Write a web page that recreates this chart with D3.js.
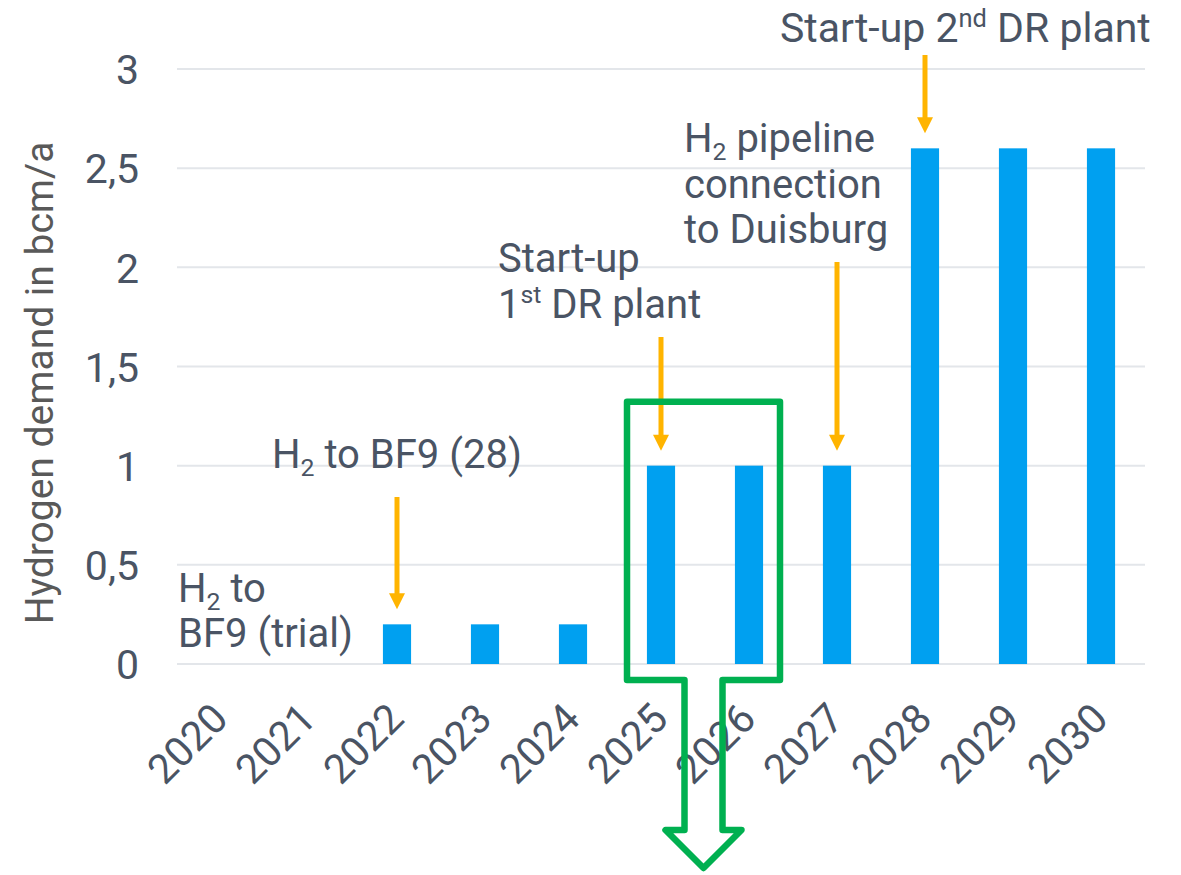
<!DOCTYPE html>
<html>
<head>
<meta charset="utf-8">
<script src="https://cdn.jsdelivr.net/npm/d3@7"></script>
<style>
  html, body { margin: 0; padding: 0; background: #ffffff; }
  svg { display: block; }
  text { font-family: Roboto, "Noto Sans", sans-serif; }
</style>
</head>
<body>
<svg id="chart" width="1181" height="875"></svg>
<script>
// ---- data ----
const years = ["2020","2021","2022","2023","2024","2025","2026","2027","2028","2029","2030"];
const demand = [0, 0, 0.2, 0.2, 0.2, 1, 1, 1, 2.6, 2.6, 2.6];
const yTicks = [0, 0.5, 1, 1.5, 2, 2.5, 3];
const yTickLabels = ["0", "0,5", "1", "1,5", "2", "2,5", "3"];
const yTitle = "Hydrogen demand in bcm/a";
// annotation texts: segments with optional sub/sup
const noteTrial = [[{t:"H"},{t:"2",s:"sub"},{t:" to"}], [{t:"BF9 (trial)"}]];
const noteBF9 = [[{t:"H"},{t:"2",s:"sub"},{t:" to BF9 (28)"}]];
const noteDR1 = [[{t:"Start-up"}], [{t:"1"},{t:"st",s:"sup"},{t:" DR plant"}]];
const notePipe = [[{t:"H"},{t:"2",s:"sub"},{t:" pipeline"}], [{t:"connection"}], [{t:"to Duisburg"}]];
const noteDR2 = [[{t:"Start-up 2"},{t:"nd",s:"sup"},{t:" DR plant"}]];
const arrowYears = ["2022", "2025", "2027", "2028"];
const highlightYears = ["2025", "2026"];

(function () {
// ---- layout ----
const svg = d3.select("#chart");
const pLeft = 177, pRight = 1145, pTop = 69, pBottom = 664;
const textColor = "#4a5464";
const barColor = "#00a0f0";
const arrowColor = "#ffb400";
const gridColor = "#e3e6ea";

const x = d3.scaleBand().domain(years).range([pLeft, pRight]).paddingInner(0.68).paddingOuter(0.34);
const y = d3.scaleLinear().domain([0, 3]).range([pBottom, pTop]);
const cx = yr => x(yr) + x.bandwidth() / 2;

// gridlines
svg.append("g").selectAll("line").data(yTicks).join("line")
  .attr("x1", pLeft).attr("x2", pRight)
  .attr("y1", d => y(d)).attr("y2", d => y(d))
  .attr("stroke", gridColor).attr("stroke-width", 2);

// y axis via d3 axis (labels only)
const yAxis = d3.axisLeft(y).tickValues(yTicks).tickFormat((d, i) => yTickLabels[i]).tickSize(0).tickPadding(0);
const gy = svg.append("g").attr("transform", "translate(139,0)").call(yAxis);
gy.select(".domain").remove();
gy.selectAll("text").attr("font-size", 41).attr("fill", textColor)
  .attr("font-family", "Roboto, sans-serif").attr("dy", "0.36em");

// y title
svg.append("text")
  .attr("transform", `translate(53,${(142 + 624) / 2}) rotate(-90)`)
  .attr("text-anchor", "middle")
  .attr("font-size", 39).attr("fill", "#595959")
  .text(yTitle);

// x axis labels via d3 axis
const xAxis = d3.axisBottom(x).tickSize(0).tickPadding(0);
const gx = svg.append("g").attr("transform", `translate(0,${pBottom})`).call(xAxis);
gx.select(".domain").remove();
gx.selectAll("text")
  .attr("font-size", 41).attr("fill", textColor)
  .attr("font-family", "Roboto, sans-serif")
  .attr("text-anchor", "end")
  .attr("y", 0).attr("dy", 0)
  .attr("transform", "translate(9,57) rotate(-45)");

// bars
svg.append("g").selectAll("rect").data(years).join("rect")
  .attr("x", d => x(d)).attr("width", x.bandwidth())
  .attr("y", (d, i) => y(demand[i]))
  .attr("height", (d, i) => y(0) - y(demand[i]))
  .attr("fill", barColor);

// annotation text helper
function note(lines, x0, baselines, size) {
  const g = svg.append("g");
  lines.forEach((segs, li) => {
    const t = g.append("text").attr("x", x0).attr("y", baselines[li])
      .attr("font-size", size).attr("fill", textColor);
    let shift = 0;
    segs.forEach(s => {
      const ts = t.append("tspan");
      let target = 0;
      if (s.s === "sub") target = 8;
      if (s.s === "sup") target = -15;
      ts.attr("dy", target - shift);
      shift = target;
      if (s.s) ts.attr("font-size", size * 0.62);
      ts.text(s.t);
    });
  });
}
note(noteTrial, 178, [602, 647], 40);
note(noteBF9, 272, [468], 40);
note(noteDR1, 498, [272, 318], 40);
note(notePipe, 684, [152, 198, 243], 40);
note(noteDR2, 780, [42], 41);

// arrows
const arrowTops = [497, 337, 262, 55];
const ag = svg.append("g");
arrowYears.forEach((yr, i) => {
  const xc = cx(yr);
  const tip = y(demand[years.indexOf(yr)]) - 15;
  ag.append("line").attr("x1", xc).attr("x2", xc)
    .attr("y1", arrowTops[i]).attr("y2", tip - 12)
    .attr("stroke", arrowColor).attr("stroke-width", 5);
  ag.append("path")
    .attr("d", `M${xc - 8},${tip - 16} L${xc + 8},${tip - 16} L${xc},${tip} Z`)
    .attr("fill", arrowColor);
});

// green highlight box with down arrow
const c1 = cx(highlightYears[0]), c2 = cx(highlightYears[1]);
const bl = c1 - 34, br = c2 + 31;
const bt = y(1) - 64, bb = y(0) + 16;
const mid = (bl + br) / 2;
const sh = 19, hh = 38;
const stemBottom = 830, tipY = 868;
const pts = [
  [bl, bt], [br, bt], [br, bb], [mid + sh, bb], [mid + sh, stemBottom],
  [mid + hh, stemBottom], [mid, tipY], [mid - hh, stemBottom], [mid - sh, stemBottom],
  [mid - sh, bb], [bl, bb]
];
svg.append("path")
  .attr("d", d3.line()(pts) + "Z")
  .attr("fill", "none").attr("stroke", "#00b050")
  .attr("stroke-width", 6.5).attr("stroke-linejoin", "round");
})();
</script>
</body>
</html>
